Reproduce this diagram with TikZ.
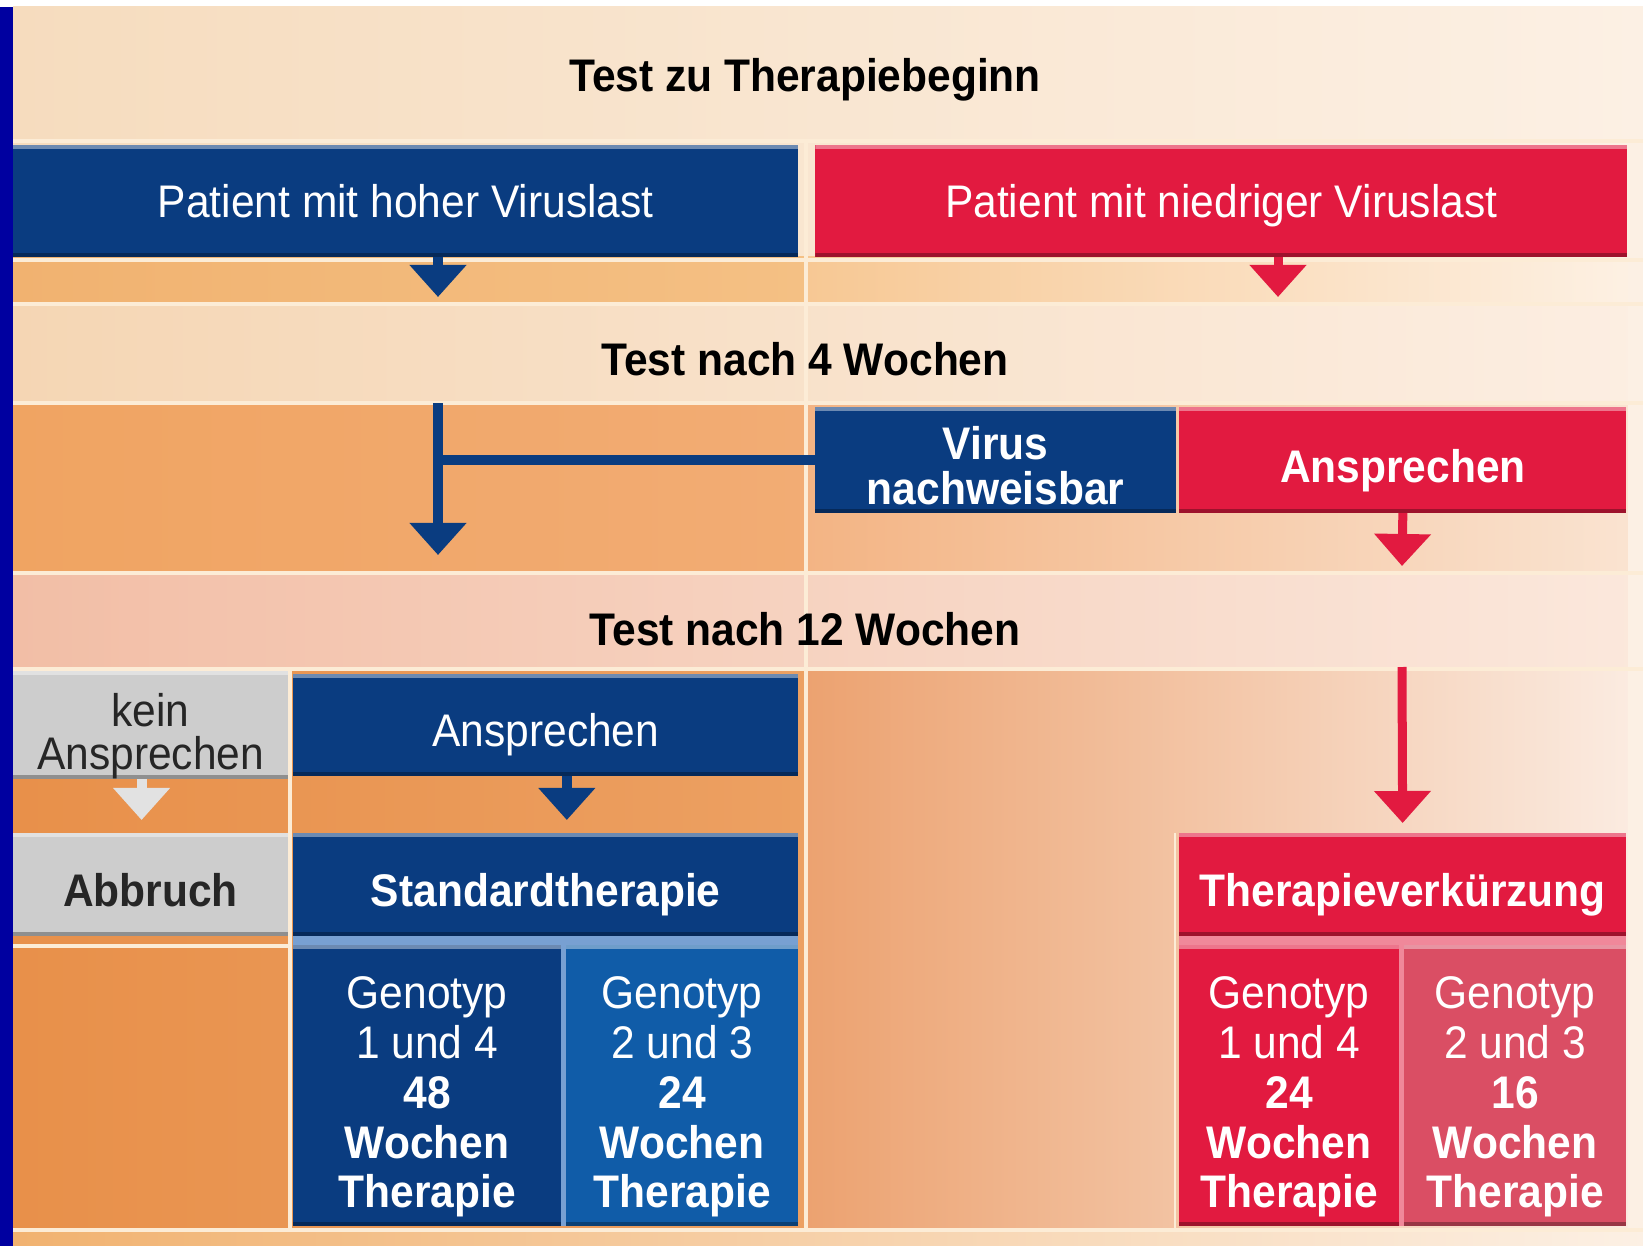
\documentclass[tikz,border=0pt]{standalone}
\usepackage{fontspec}
\setmainfont{Liberation Sans}[FakeStretch=0.93]
\usetikzlibrary{shapes, arrows, arrows.meta, positioning}
\newcommand{\stuetze}[1]{\rule{0pt}{#1}}
\definecolor{dunkelblau}{RGB}{10,60,128}
\definecolor{mittelblau}{RGB}{16,92,168}
\definecolor{kraeftigrot}{RGB}{226,26,64}
\definecolor{hellrot}{RGB}{218,78,100}
\definecolor{hellgrau}{RGB}{205,205,205}
\definecolor{pfeilgrau}{RGB}{226,226,226}
\definecolor{randblau}{RGB}{0,0,160}
\definecolor{creme}{RGB}{252,236,214}
\definecolor{blaufuge}{RGB}{120,160,210}
\definecolor{rotfuge}{RGB}{240,136,154}
\definecolor{obenA}{RGB}{246,220,190}
\definecolor{obenB}{RGB}{252,240,228}
\definecolor{bandA}{RGB}{241,178,112}
\definecolor{bandB}{RGB}{244,192,132}
\definecolor{bandC}{RGB}{247,200,148}
\definecolor{bandD}{RGB}{253,241,228}
\definecolor{mitteA}{RGB}{245,214,180}
\definecolor{mitteB}{RGB}{252,238,226}
\definecolor{zweiA}{RGB}{240,164,98}
\definecolor{zweiB}{RGB}{242,172,116}
\definecolor{zweiC}{RGB}{243,180,132}
\definecolor{zweiD}{RGB}{250,228,210}
\definecolor{rosaA}{RGB}{242,190,166}
\definecolor{rosaB}{RGB}{251,232,220}
\definecolor{untenA}{RGB}{232,144,74}
\definecolor{untenB}{RGB}{236,160,98}
\definecolor{untenC}{RGB}{236,162,112}
\definecolor{untenD}{RGB}{242,190,152}
\definecolor{untenF}{RGB}{251,236,226}
\tikzstyle{kasten} = [rectangle, inner sep=0pt, outer sep=0pt, align=center, text=white, font=\fontsize{13}{14.2}\selectfont, path picture={\fill[white, opacity=0.4] (path picture bounding box.north west) rectangle ([yshift=-0.04cm]path picture bounding box.north east); \fill[black, opacity=0.3] (path picture bounding box.south west) rectangle ([yshift=0.04cm]path picture bounding box.south east);}]
\tikzstyle{einzeilig} = [text height=12.5pt, text depth=0pt]
\tikzstyle{blau} = [kasten, fill=dunkelblau]
\tikzstyle{rot} = [kasten, fill=kraeftigrot]
\tikzstyle{grau} = [kasten, fill=hellgrau, text=black!85]
\tikzstyle{fett} = [font=\bfseries\fontsize{13}{14}\selectfont]
\tikzstyle{titel} = [font=\bfseries\fontsize{13}{15}\selectfont, text=black, text height=9.5pt, text depth=0pt]
\tikzstyle{fuge} = [draw=creme, line width=0.035cm]
\tikzstyle{pfeilblau} = [draw=dunkelblau, line width=0.1cm, -{Triangle[width=0.55cm,length=0.32cm]}]
\tikzstyle{pfeilrot} = [draw=kraeftigrot, line width=0.09cm, -{Triangle[width=0.55cm,length=0.32cm]}]
\tikzstyle{pfeilhell} = [draw=pfeilgrau, line width=0.1cm, -{Triangle[width=0.55cm,length=0.32cm]}]
\begin{document}
\begin{tikzpicture}[x=0.01cm, y=-0.01cm]
	\useasboundingbox (0,0) rectangle (1643,1246);
	\fill[white] (0,0) rectangle (1643,7);
	\fill[randblau] (0,7) rectangle (13,1246);
	\shade[left color=obenA, right color=obenB] (13,7) rectangle (1643,257);
	\shade[left color=bandA, right color=bandB] (13,257) rectangle (806,304);
	\shade[left color=bandC, right color=bandD] (806,257) rectangle (1643,304);
	\shade[left color=mitteA, right color=mitteB] (13,304) rectangle (1643,403);
	\shade[left color=zweiA, right color=zweiB] (13,403) rectangle (806,573);
	\shade[left color=zweiC, right color=zweiD] (806,403) rectangle (1643,573);
	\shade[left color=rosaA, right color=rosaB] (13,573) rectangle (1643,671);
	\shade[left color=untenA, right color=untenB] (13,671) rectangle (806,1232);
	\shade[left color=untenC, middle color=untenD, right color=untenF] (806,671) rectangle (1643,1232);
	\shade[left color=bandA, right color=obenB] (13,1232) rectangle (1643,1246);
	\fill[obenB] (1628,141) rectangle (1643,1232);
	\foreach \y in {141,260,304,403,573,669,1230}
		\draw[fuge] (13,\y) -- (1643,\y);
	\draw[fuge] (806,141) -- (806,1232);
	\draw[fuge] (290,671) -- (290,1232);
	\draw[fuge] (13,946) -- (290,946);
	\draw[fuge, line width=0.02cm] (1175,833) -- (1175,1232);
	\fill[blaufuge] (293,936) rectangle (798,1226);
	\fill[rotfuge] (1179,936) rectangle (1626,1226);

	\node[titel] (beginn) at (805,75) {Test zu Therapiebeginn};
	\node[blau, einzeilig, text height=9.5pt, minimum width=7.85cm, minimum height=1.12cm, anchor=north west] (hoch) at (13,145) {Patient mit hoher Viruslast};
	\node[rot, einzeilig, text height=9.5pt, minimum width=8.11cm, minimum height=1.12cm, right=0.17cm of hoch] (niedrig) {Patient mit niedriger Viruslast};

	\node[titel] (vier) at (805,359) {Test nach 4 Wochen};
	\node[blau, minimum width=3.61cm, minimum height=1.06cm, anchor=north west, font=\bfseries\fontsize{13}{12.8}\selectfont] (virus) at (815,407) {\stuetze{12.5pt}Virus\\nachweisbar};
	\node[rot, fett, einzeilig, minimum width=4.47cm, minimum height=1.06cm, right=0.03cm of virus] (ansprechenA) {Ansprechen};

	\node[titel] (zwoelf) at (805,629) {Test nach 12 Wochen};
	\node[grau, minimum width=2.75cm, minimum height=1.02cm, anchor=north west, font=\fontsize{13}{12.2}\selectfont] (kein) at (13,671) {\stuetze{15.8pt}kein\\Ansprechen};
	\node[blau, einzeilig, minimum width=5.05cm, minimum height=1.02cm, right=0.05cm of kein] (ansprechenB) {Ansprechen};

	\node[grau, fett, einzeilig, minimum width=2.75cm, minimum height=1.03cm, anchor=north west] (abbruch) at (13,833) {Abbruch};
	\node[blau, fett, einzeilig, minimum width=5.05cm, minimum height=1.03cm, right=0.05cm of abbruch] (standard) {Standardtherapie};
	\node[rot, fett, einzeilig, minimum width=4.47cm, minimum height=1.03cm, anchor=north west] (verkuerzung) at (1179,833) {Therapieverkürzung};

	\node[blau, minimum width=2.68cm, minimum height=2.81cm, anchor=north west] (geno1) at (293,945) {\stuetze{15.5pt}Genotyp\\1 und 4\\\textbf{48}\\\textbf{Wochen}\\\textbf{Therapie}};
	\node[blau, fill=mittelblau, minimum width=2.32cm, minimum height=2.81cm, right=0.05cm of geno1] (geno2) {\stuetze{15.5pt}Genotyp\\2 und 3\\\textbf{24}\\\textbf{Wochen}\\\textbf{Therapie}};
	\node[rot, minimum width=2.20cm, minimum height=2.81cm, anchor=north west] (geno3) at (1179,945) {\stuetze{15.5pt}Genotyp\\1 und 4\\\textbf{24}\\\textbf{Wochen}\\\textbf{Therapie}};
	\node[rot, fill=hellrot, minimum width=2.22cm, minimum height=2.81cm, right=0.05cm of geno3] (geno4) {\stuetze{15.5pt}Genotyp\\2 und 3\\\textbf{16}\\\textbf{Wochen}\\\textbf{Therapie}};

	\coordinate (spitzeA) at (438,297);
	\coordinate (spitzeB) at (1278,297);
	\coordinate (stammoben) at (438,403);
	\coordinate (stammunten) at (438,555);
	\coordinate (spitzeC) at (1402,566);
	\coordinate (rotoben) at (1402,667);
	\draw[pfeilblau] (hoch.south -| spitzeA) -- (spitzeA);
	\draw[pfeilrot] (niedrig.south -| spitzeB) -- (spitzeB);
	\draw[pfeilblau] (stammoben) -- (stammunten);
	\draw[pfeilblau, -] (virus.west) -- ([xshift=-0.05cm]virus.west -| stammoben);
	\draw[pfeilrot] (ansprechenA.south) -- (spitzeC);
	\draw[pfeilhell] ([xshift=-0.09cm]kein.south) -- ([xshift=-0.09cm, yshift=0.13cm]abbruch.north);
	\draw[pfeilblau] ([xshift=0.21cm]ansprechenB.south) -- ([xshift=0.21cm, yshift=0.13cm]standard.north);
	\draw[pfeilrot] (rotoben) -- ([yshift=0.1cm]verkuerzung.north);
\end{tikzpicture}
\end{document}
